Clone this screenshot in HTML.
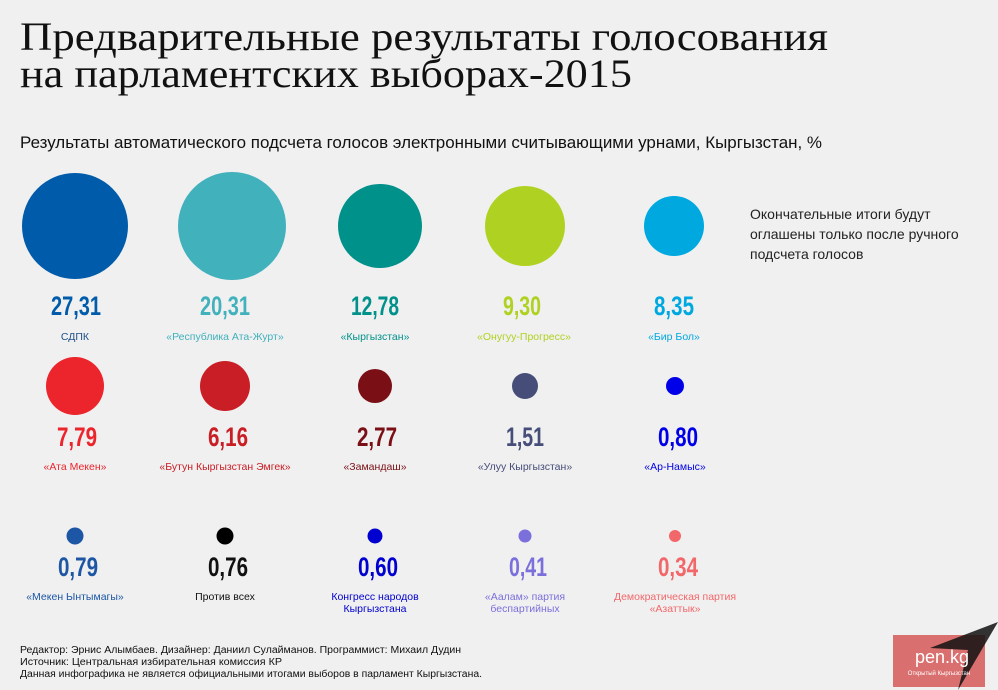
<!DOCTYPE html>
<html><head><meta charset="utf-8"><style>
html,body{margin:0;padding:0;background:#f0f0f0;}
svg{display:block}
.n{font-family:"Liberation Sans",sans-serif;font-weight:bold;font-size:27px;text-anchor:middle}
.l{font-family:"Liberation Sans",sans-serif;font-size:10.5px;text-anchor:middle}
</style></head><body>
<svg width="998" height="690" viewBox="0 0 998 690" xmlns="http://www.w3.org/2000/svg">
<rect width="998" height="690" fill="#f0f0f0"/>
<g font-family="Liberation Serif,serif" font-size="40" fill="#111">
<text x="20" y="50" textLength="808" lengthAdjust="spacingAndGlyphs">Предварительные результаты голосования</text>
<text x="20" y="87" textLength="612" lengthAdjust="spacingAndGlyphs">на парламентских выборах-2015</text>
</g>
<text x="20" y="148" font-family="Liberation Sans,sans-serif" font-size="17" fill="#111" textLength="802" lengthAdjust="spacingAndGlyphs">Результаты автоматического подсчета голосов электронными считывающими урнами, Кыргызстан, %</text>
<g font-family="Liberation Sans,sans-serif" font-size="14" fill="#222">
<text x="750" y="219">Окончательные итоги будут</text>
<text x="750" y="239">оглашены только после ручного</text>
<text x="750" y="259">подсчета голосов</text>
</g>
<!-- row1 -->
<circle cx="75" cy="226" r="53" fill="#005baa"/>
<circle cx="232" cy="226" r="54" fill="#41b1bc"/>
<circle cx="380" cy="226" r="42" fill="#00918a"/>
<circle cx="525" cy="226" r="40" fill="#afd121"/>
<circle cx="674" cy="226" r="30" fill="#00a8e0"/>
<text class="n" x="76" y="315" fill="#005baa" textLength="50" lengthAdjust="spacingAndGlyphs">27,31</text>
<text class="n" x="225" y="315" fill="#41b1bc" textLength="50" lengthAdjust="spacingAndGlyphs">20,31</text>
<text class="n" x="375" y="315" fill="#00918a" textLength="48" lengthAdjust="spacingAndGlyphs">12,78</text>
<text class="n" x="522" y="315" fill="#afd121" textLength="38" lengthAdjust="spacingAndGlyphs">9,30</text>
<text class="n" x="674" y="315" fill="#00a8e0" textLength="40" lengthAdjust="spacingAndGlyphs">8,35</text>
<text class="l" x="75" y="340" fill="#1d4f8a">СДПК</text>
<text class="l" x="225" y="340" fill="#41b1bc">«Республика Ата-Журт»</text>
<text class="l" x="375" y="340" fill="#00918a">«Кыргызстан»</text>
<text class="l" x="524" y="340" fill="#afd121">«Онугуу-Прогресс»</text>
<text class="l" x="674" y="340" fill="#00a8e0">«Бир Бол»</text>
<!-- row2 -->
<circle cx="75" cy="386" r="29" fill="#ec242b"/>
<circle cx="225" cy="386" r="25" fill="#c91e25"/>
<circle cx="375" cy="386" r="17" fill="#7a1016"/>
<circle cx="525" cy="386" r="13" fill="#454d78"/>
<circle cx="675" cy="386" r="9" fill="#0000e8"/>
<text class="n" x="77" y="446" fill="#ec242b" textLength="40" lengthAdjust="spacingAndGlyphs">7,79</text>
<text class="n" x="228" y="446" fill="#c91e25" textLength="40" lengthAdjust="spacingAndGlyphs">6,16</text>
<text class="n" x="377" y="446" fill="#7a1016" textLength="40" lengthAdjust="spacingAndGlyphs">2,77</text>
<text class="n" x="525" y="446" fill="#454d78" textLength="38" lengthAdjust="spacingAndGlyphs">1,51</text>
<text class="n" x="678" y="446" fill="#0000e8" textLength="40" lengthAdjust="spacingAndGlyphs">0,80</text>
<text class="l" x="75" y="470" fill="#ec242b">«Ата Мекен»</text>
<text class="l" x="225" y="470" fill="#c91e25">«Бутун Кыргызстан Эмгек»</text>
<text class="l" x="375" y="470" fill="#7a1016">«Замандаш»</text>
<text class="l" x="525" y="470" fill="#454d78">«Улуу Кыргызстан»</text>
<text class="l" x="675" y="470" fill="#0000e8">«Ар-Намыс»</text>
<!-- row3 -->
<circle cx="75" cy="536" r="8.5" fill="#1c56a5"/>
<circle cx="225" cy="536" r="8.5" fill="#000"/>
<circle cx="375" cy="536" r="7.5" fill="#0000d0"/>
<circle cx="525" cy="536" r="6.5" fill="#7b6fdc"/>
<circle cx="675" cy="536" r="6" fill="#f2676a"/>
<text class="n" x="78" y="576" fill="#1c56a5" textLength="40" lengthAdjust="spacingAndGlyphs">0,79</text>
<text class="n" x="228" y="576" fill="#111" textLength="40" lengthAdjust="spacingAndGlyphs">0,76</text>
<text class="n" x="378" y="576" fill="#0000d0" textLength="40" lengthAdjust="spacingAndGlyphs">0,60</text>
<text class="n" x="528" y="576" fill="#7b6fdc" textLength="38" lengthAdjust="spacingAndGlyphs">0,41</text>
<text class="n" x="678" y="576" fill="#f2676a" textLength="40" lengthAdjust="spacingAndGlyphs">0,34</text>
<text class="l" x="75" y="600" fill="#1c56a5">«Мекен Ынтымагы»</text>
<text class="l" x="225" y="600" fill="#111">Против всех</text>
<text class="l" x="375" y="600" fill="#0000d0">Конгресс народов</text>
<text class="l" x="375" y="612" fill="#0000d0">Кыргызстана</text>
<text class="l" x="525" y="600" fill="#7b6fdc">«Аалам» партия</text>
<text class="l" x="525" y="612" fill="#7b6fdc">беспартийных</text>
<text class="l" x="675" y="600" fill="#f2676a">Демократическая партия</text>
<text class="l" x="675" y="612" fill="#f2676a">«Азаттык»</text>
<!-- footer -->
<g font-family="Liberation Sans,sans-serif" font-size="10" fill="#111">
<text x="20" y="653" textLength="441" lengthAdjust="spacingAndGlyphs">Редактор: Эрнис Алымбаев. Дизайнер: Даниил Сулайманов. Программист: Михаил Дудин</text>
<text x="20" y="665" textLength="262" lengthAdjust="spacingAndGlyphs">Источник: Центральная избирательная комиссия КР</text>
<text x="20" y="677" textLength="462" lengthAdjust="spacingAndGlyphs">Данная инфографика не является официальными итогами выборов в парламент Кыргызстана.</text>
</g>
<!-- logo -->
<rect x="893" y="635" width="92" height="52" fill="#d9706f"/>
<polygon points="998,622 930,648 968,650 958,690" fill="#111" opacity="0.85"/>
<text x="915" y="663" font-family="Liberation Sans,sans-serif" font-size="18" fill="#fff">pen.kg</text>
<text x="939" y="675" font-family="Liberation Sans,sans-serif" font-size="6" fill="#fff" text-anchor="middle">Открытый Кыргызстан</text>
</svg>
</body></html>
